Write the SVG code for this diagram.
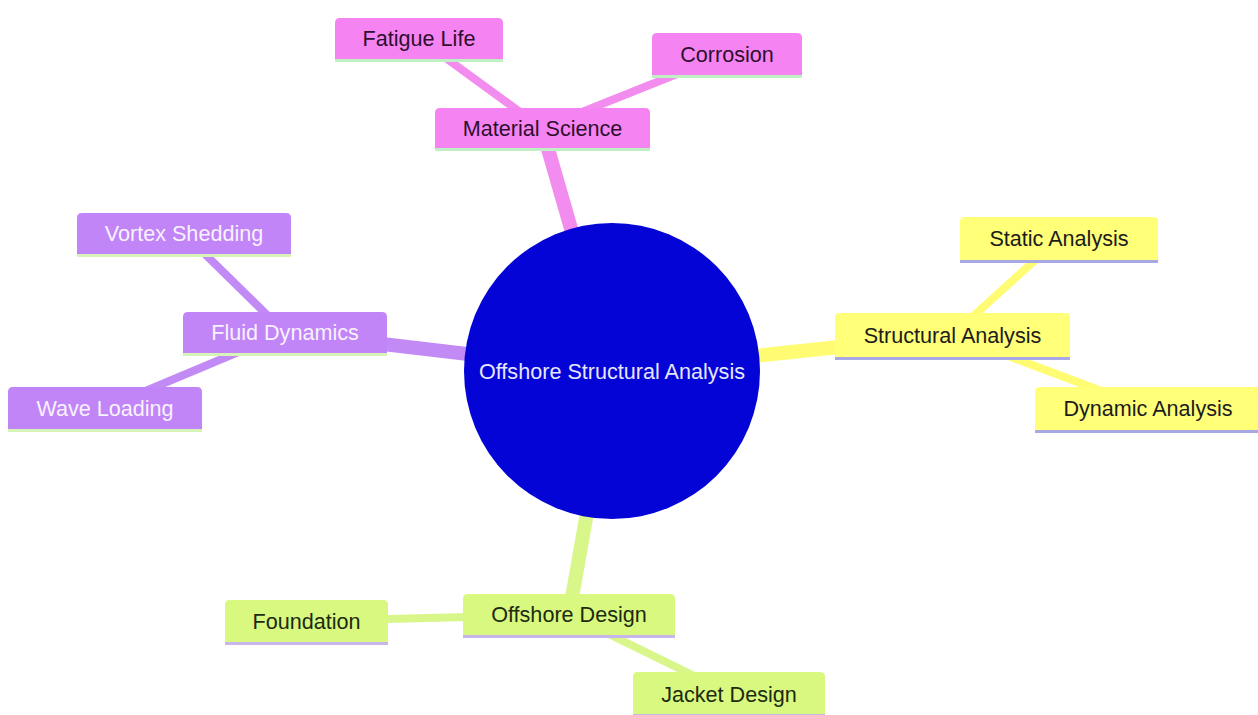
<svg xmlns="http://www.w3.org/2000/svg" width="1258" height="715" viewBox="0 0 1258 715">
<style>
  text { font-family: "Liberation Sans", Arial, sans-serif; font-size: 21.6px; text-anchor: middle; }
  .e0 { stroke-width: 14; stroke-linecap: butt; fill: none; }
  .e1 { stroke-width: 8; stroke-linecap: butt; fill: none; }
  .pink { fill: #f584f2; }
  .pinkE { stroke: #f38cef; }
  .pinkL { stroke: #bff0c4; }
  .pinkT { fill: #2e0f2e; }
  .purp { fill: #c285f7; }
  .purpE { stroke: #c28af5; }
  .purpL { stroke: #d6f4b8; }
  .purpT { fill: #f7f2ff; }
  .yel { fill: #ffff78; }
  .yelE { stroke: #fffc74; }
  .yelL { stroke: #a8a8e4; }
  .yelT { fill: #1c1c1c; }
  .lime { fill: #d8f880; }
  .limeE { stroke: #d8f68a; }
  .limeL { stroke: #c6b6ec; }
  .limeT { fill: #1c2a10; }
  .line { stroke-width: 3; }
</style>
<rect x="0" y="0" width="1258" height="715" fill="#ffffff"/>
<g id="connectors">
  <line class="e0 pinkE" x1="612" y1="371" x2="542" y2="128"/>
  <line class="e1 pinkE" x1="542" y1="128" x2="419" y2="38.5"/>
  <line class="e1 pinkE" x1="542" y1="128" x2="727" y2="54"/>
  <line class="e0 purpE" x1="612" y1="371" x2="285" y2="332.5"/>
  <line class="e1 purpE" x1="285" y1="332.5" x2="184" y2="233.5"/>
  <line class="e1 purpE" x1="285" y1="332.5" x2="105" y2="408"/>
  <line class="e0 yelE" x1="612" y1="371" x2="952.5" y2="335"/>
  <line class="e1 yelE" x1="952.5" y1="335" x2="1059" y2="238.5"/>
  <line class="e1 yelE" x1="952.5" y1="335" x2="1148" y2="408.5"/>
  <line class="e0 limeE" x1="612" y1="371" x2="569" y2="614.5"/>
  <line class="e1 limeE" x1="569" y1="614.5" x2="306.5" y2="621"/>
  <line class="e1 limeE" x1="569" y1="614.5" x2="729" y2="693"/>
</g>
<g id="root">
  <circle cx="612" cy="371" r="148" fill="#0404d6"/>
  <text x="612" y="378.5" fill="#e6e6ff">Offshore Structural Analysis</text>
</g>
<g id="material-science">
  <path class="pink" d="M435 148 V113 Q435 108 440 108 H645 Q650 108 650 113 V148 Z"/>
  <line class="line pinkL" x1="435" y1="149.5" x2="650" y2="149.5"/>
  <text class="pinkT" x="542.5" y="136">Material Science</text>
</g>
<g id="fatigue-life">
  <path class="pink" d="M335 59 V23 Q335 18 340 18 H498 Q503 18 503 23 V59 Z"/>
  <line class="line pinkL" x1="335" y1="60.5" x2="503" y2="60.5"/>
  <text class="pinkT" x="419" y="46">Fatigue Life</text>
</g>
<g id="corrosion">
  <path class="pink" d="M652 75 V38 Q652 33 657 33 H797 Q802 33 802 38 V75 Z"/>
  <line class="line pinkL" x1="652" y1="76.5" x2="802" y2="76.5"/>
  <text class="pinkT" x="727" y="62">Corrosion</text>
</g>
<g id="fluid-dynamics">
  <path class="purp" d="M183 353 V317 Q183 312 188 312 H382 Q387 312 387 317 V353 Z"/>
  <line class="line purpL" x1="183" y1="354.5" x2="387" y2="354.5"/>
  <text class="purpT" x="285" y="340">Fluid Dynamics</text>
</g>
<g id="vortex-shedding">
  <path class="purp" d="M77 254 V218 Q77 213 82 213 H286 Q291 213 291 218 V254 Z"/>
  <line class="line purpL" x1="77" y1="255.5" x2="291" y2="255.5"/>
  <text class="purpT" x="184" y="241">Vortex Shedding</text>
</g>
<g id="wave-loading">
  <path class="purp" d="M8 429 V392 Q8 387 13 387 H197 Q202 387 202 392 V429 Z"/>
  <line class="line purpL" x1="8" y1="430.5" x2="202" y2="430.5"/>
  <text class="purpT" x="105" y="416">Wave Loading</text>
</g>
<g id="structural-analysis">
  <path class="yel" d="M835 357 V318 Q835 313 840 313 H1065 Q1070 313 1070 318 V357 Z"/>
  <line class="line yelL" x1="835" y1="358.5" x2="1070" y2="358.5"/>
  <text class="yelT" x="952.5" y="343">Structural Analysis</text>
</g>
<g id="static-analysis">
  <path class="yel" d="M960 260 V222 Q960 217 965 217 H1153 Q1158 217 1158 222 V260 Z"/>
  <line class="line yelL" x1="960" y1="261.5" x2="1158" y2="261.5"/>
  <text class="yelT" x="1059" y="246">Static Analysis</text>
</g>
<g id="dynamic-analysis">
  <path class="yel" d="M1035 430 V392 Q1035 387 1040 387 H1257 Q1262 387 1262 392 V430 Z"/>
  <line class="line yelL" x1="1035" y1="431.5" x2="1262" y2="431.5"/>
  <text class="yelT" x="1148" y="416">Dynamic Analysis</text>
</g>
<g id="offshore-design">
  <path class="lime" d="M463 635 V599 Q463 594 468 594 H670 Q675 594 675 599 V635 Z"/>
  <line class="line limeL" x1="463" y1="636.5" x2="675" y2="636.5"/>
  <text class="limeT" x="569" y="622">Offshore Design</text>
</g>
<g id="foundation">
  <path class="lime" d="M225 642 V605 Q225 600 230 600 H383 Q388 600 388 605 V642 Z"/>
  <line class="line limeL" x1="225" y1="643.5" x2="388" y2="643.5"/>
  <text class="limeT" x="306.5" y="629">Foundation</text>
</g>
<g id="jacket-design">
  <path class="lime" d="M633 714 V677 Q633 672 638 672 H820 Q825 672 825 677 V714 Z"/>
  <line class="line limeL" x1="633" y1="715.5" x2="825" y2="715.5"/>
  <text class="limeT" x="729" y="702">Jacket Design</text>
</g>
</svg>
